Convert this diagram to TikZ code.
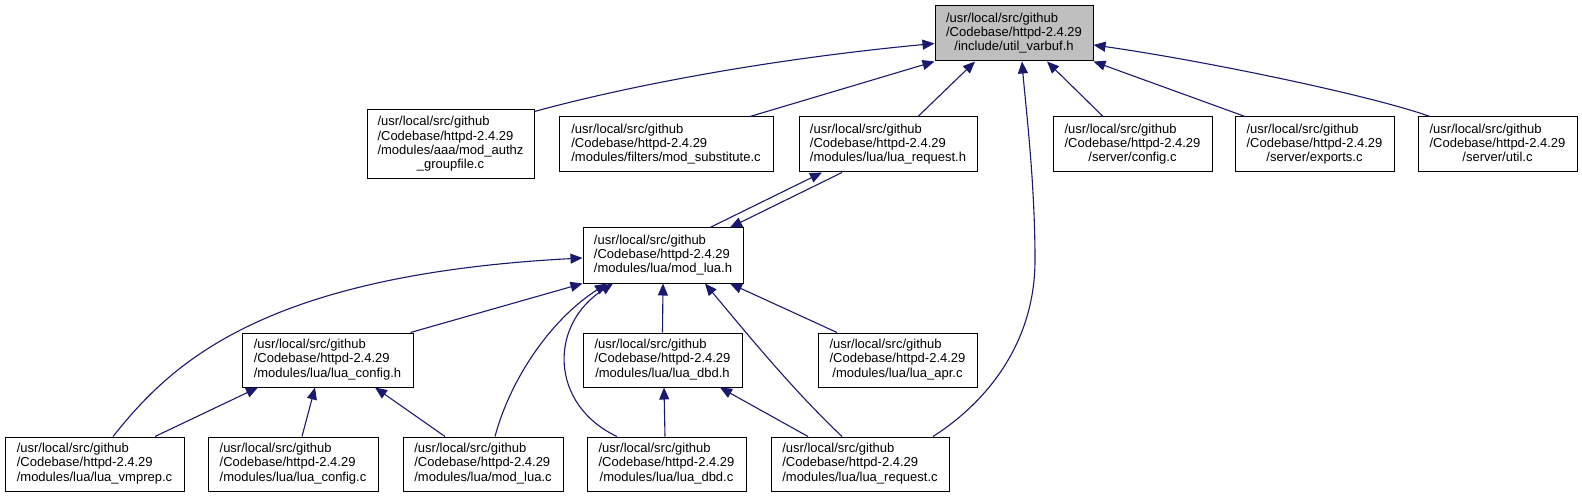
\documentclass[tikz,border=0pt]{standalone}
\usepackage{fontspec}
\setmainfont{Liberation Sans}
\usetikzlibrary{arrows.meta}
\definecolor{navy}{RGB}{25,25,112}
\definecolor{rootgray}{RGB}{191,191,191}
\newcommand{\dox}[2]{\begin{tabular}{@{}l@{}}#1\\\multicolumn{1}{@{}c@{}}{#2}\end{tabular}}
\tikzset{
  box/.style={draw=black, line width=1pt, inner sep=0pt, fill=white,
    font=\fontsize{13pt}{14.3pt}\selectfont, minimum height=55pt},
  dep/.style={draw=navy, line width=1.1pt, -{Triangle[length=12pt,width=10pt]}},
}
\begin{document}
\begin{tikzpicture}[x=1pt,y=-1pt]
\useasboundingbox (0,0) rectangle (1582,497);
% row 1
\node[box, fill=rootgray, minimum width=158pt] (root) at (1014,33.5)
  {\dox{/usr/local/src/github\\/Codebase/httpd-2.4.29}{/include/util\_varbuf.h}};
% row 2
\node[box, minimum width=167pt, minimum height=69pt] (authz) at (450.5,144.5)
  {\dox{/usr/local/src/github\\/Codebase/httpd-2.4.29\\/modules/aaa/mod\_authz}{\_groupfile.c}};
\node[box, minimum width=214pt] (subst) at (666,144.5)
  {\dox{/usr/local/src/github\\/Codebase/httpd-2.4.29}{/modules/filters/mod\_substitute.c}};
\node[box, minimum width=178pt] (lreqh) at (888,144.5)
  {\dox{/usr/local/src/github\\/Codebase/httpd-2.4.29}{/modules/lua/lua\_request.h}};
\node[box, minimum width=159pt] (config) at (1132.5,144.5)
  {\dox{/usr/local/src/github\\/Codebase/httpd-2.4.29}{/server/config.c}};
\node[box, minimum width=159pt] (exports) at (1314.5,144.5)
  {\dox{/usr/local/src/github\\/Codebase/httpd-2.4.29}{/server/exports.c}};
\node[box, minimum width=159pt] (util) at (1497.5,144.5)
  {\dox{/usr/local/src/github\\/Codebase/httpd-2.4.29}{/server/util.c}};
% row 3
\node[box, minimum width=160pt] (modluah) at (663,255.5)
  {\dox{/usr/local/src/github\\/Codebase/httpd-2.4.29}{/modules/lua/mod\_lua.h}};
% row 4
\node[box, minimum width=171pt, minimum height=54pt] (luacfgh) at (327.5,360)
  {\dox{/usr/local/src/github\\/Codebase/httpd-2.4.29}{/modules/lua/lua\_config.h}};
\node[box, minimum width=159pt, minimum height=54pt] (luadbdh) at (662.5,360)
  {\dox{/usr/local/src/github\\/Codebase/httpd-2.4.29}{/modules/lua/lua\_dbd.h}};
\node[box, minimum width=159pt, minimum height=54pt] (luaapr) at (897.5,360)
  {\dox{/usr/local/src/github\\/Codebase/httpd-2.4.29}{/modules/lua/lua\_apr.c}};
% row 5
\node[box, minimum width=179pt, minimum height=54pt] (vmprep) at (94.5,464)
  {\dox{/usr/local/src/github\\/Codebase/httpd-2.4.29}{/modules/lua/lua\_vmprep.c}};
\node[box, minimum width=170pt, minimum height=54pt] (luacfgc) at (293,464)
  {\dox{/usr/local/src/github\\/Codebase/httpd-2.4.29}{/modules/lua/lua\_config.c}};
\node[box, minimum width=160pt, minimum height=54pt] (modluac) at (483,464)
  {\dox{/usr/local/src/github\\/Codebase/httpd-2.4.29}{/modules/lua/mod\_lua.c}};
\node[box, minimum width=159pt, minimum height=54pt] (luadbdc) at (666.5,464)
  {\dox{/usr/local/src/github\\/Codebase/httpd-2.4.29}{/modules/lua/lua\_dbd.c}};
\node[box, minimum width=178pt, minimum height=54pt] (lreqc) at (860,464)
  {\dox{/usr/local/src/github\\/Codebase/httpd-2.4.29}{/modules/lua/lua\_request.c}};

% edges into root
\draw[dep] ([yshift=-2pt]authz.north east) .. controls (620,88) and (760,60) .. ([yshift=-10pt]root.west);
\draw[dep] ([xshift=84pt]subst.north) -- (root.south west);
\draw[dep] ([xshift=30pt]lreqh.north) -- ([xshift=-39pt]root.south);
\draw[dep] ([xshift=73pt]lreqc.north) .. controls (990,400) and (1035,340) .. (1035,260)
  .. controls (1035,180) and (1025,100) .. ([xshift=8pt]root.south);
\draw[dep] ([xshift=-29.5pt]config.north) -- ([xshift=33pt]root.south);
\draw[dep] ([xshift=-69.5pt]exports.north) -- (root.south east);
\draw[dep] ([xshift=-67.5pt]util.north) .. controls (1370,95) and (1200,60) .. ([yshift=-11.5pt]root.east);

% mutual include between mod_lua.h and lua_request.h
\draw[dep] ([xshift=47pt]modluah.north) -- ([xshift=-66pt]lreqh.south);
\draw[dep] ([xshift=-46pt]lreqh.south) -- ([xshift=67pt]modluah.north);

% edges into mod_lua.h
\draw[dep] ([xshift=18.5pt]vmprep.north) .. controls (170,365) and (260,275) .. ([yshift=-2.5pt]modluah.west);
\draw[dep] ([xshift=-3pt]luacfgh.north east) -- (modluah.south west);
\draw[dep] ([xshift=12pt]modluac.north) .. controls (510,380) and (550,320) .. ([xshift=-56pt]modluah.south);
\draw[dep] ([xshift=-49.5pt]luadbdc.north) .. controls (550,405) and (548,325) .. ([xshift=-50pt]modluah.south);
\draw[dep] (luadbdh.north) -- (modluah.south);
\draw[dep] ([xshift=-18pt]lreqc.north) .. controls (793,390) and (748,335) .. ([xshift=42pt]modluah.south);
\draw[dep] ([xshift=-60.5pt]luaapr.north) -- ([xshift=67pt]modluah.south);

% edges into lua_config.h
\draw[dep] ([xshift=60.5pt]vmprep.north) -- ([xshift=-69.5pt]luacfgh.south);
\draw[dep] ([xshift=9pt]luacfgc.north) -- ([xshift=-12.5pt]luacfgh.south);
\draw[dep] ([xshift=-38pt]modluac.north) -- ([xshift=47.5pt]luacfgh.south);

% edges into lua_dbd.h
\draw[dep] ([xshift=-1.5pt]luadbdc.north) -- ([xshift=1.5pt]luadbdh.south);
\draw[dep] ([xshift=-52pt]lreqc.north) -- ([xshift=57.5pt]luadbdh.south);
\end{tikzpicture}
\end{document}
